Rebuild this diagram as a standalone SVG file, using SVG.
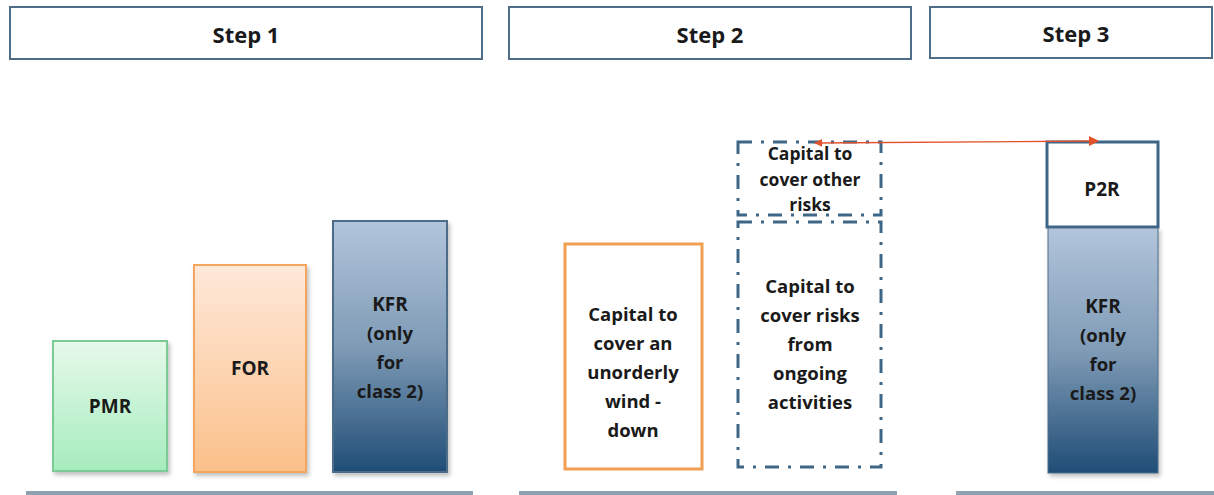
<svg xmlns="http://www.w3.org/2000/svg" width="1214" height="495" viewBox="0 0 1214 495">
<style>
.step{fill:#fff;stroke:#4f6d86;stroke-width:2}
.steptxt{font-family:"Open Sans","Liberation Sans",sans-serif;font-weight:bold;font-size:22px;fill:#1a1a1a;text-anchor:middle}
.t{font-family:"Open Sans","Liberation Sans",sans-serif;font-weight:bold;font-size:18.5px;fill:#1a1a1a;text-anchor:middle}
.tb{font-family:"Open Sans","Liberation Sans",sans-serif;font-weight:bold;font-size:19px;fill:#1a1a1a;text-anchor:middle}
.ts{font-family:"Open Sans","Liberation Sans",sans-serif;font-weight:bold;font-size:17.5px;fill:#1a1a1a;text-anchor:middle}
.dd{fill:none;stroke:#3e6686;stroke-width:3;stroke-dasharray:14 9 3 9}
.base{stroke:#8ea2b2;stroke-width:4}
</style>
<defs>
<linearGradient id="gGreen" x1="0" y1="0" x2="0" y2="1"><stop offset="0" stop-color="#e6f9ea"/><stop offset="1" stop-color="#a6ecbe"/></linearGradient>
<linearGradient id="gOrange" x1="0" y1="0" x2="0" y2="1"><stop offset="0" stop-color="#fee9da"/><stop offset="1" stop-color="#fbc08a"/></linearGradient>
<linearGradient id="gBlue" x1="0" y1="0" x2="0" y2="1"><stop offset="0" stop-color="#b2c5db"/><stop offset="0.5" stop-color="#7f9bb6"/><stop offset="1" stop-color="#1f4d76"/></linearGradient>
<filter id="sh" x="-10%" y="-5%" width="125%" height="115%"><feDropShadow dx="2" dy="3" stdDeviation="2" flood-color="#000" flood-opacity="0.25"/></filter>
<marker id="arrR" viewBox="0 0 10 10" refX="9" refY="5" markerWidth="10" markerHeight="10" markerUnits="userSpaceOnUse" orient="auto"><path d="M0,0 L10,5 L0,10 z" fill="#e2502c"/></marker>
<marker id="arrL" viewBox="0 0 10 10" refX="1" refY="5" markerWidth="8" markerHeight="8" markerUnits="userSpaceOnUse" orient="auto"><path d="M10,0 L0,5 L10,10 z" fill="#e2502c"/></marker>
</defs>

<g id="step1"><rect class="step" x="10" y="7" width="472" height="52"/><text class="steptxt" x="246" y="43">Step 1</text></g>
<g id="step2"><rect class="step" x="509" y="7" width="402" height="52"/><text class="steptxt" x="710" y="43">Step 2</text></g>
<g id="step3"><rect class="step" x="930" y="7" width="282" height="51"/><text class="steptxt" x="1076" y="42">Step 3</text></g>

<g id="pmr"><rect x="53" y="341" width="114" height="130" fill="url(#gGreen)" stroke="#7ccb96" stroke-width="2" filter="url(#sh)"/><text class="tb" x="110" y="413">PMR</text></g>
<g id="for"><rect x="194" y="265" width="112" height="207" fill="url(#gOrange)" stroke="#f3a660" stroke-width="2" filter="url(#sh)"/><text class="tb" x="250" y="375">FOR</text></g>
<g id="kfr1"><rect x="333" y="221" width="114" height="251" fill="url(#gBlue)" stroke="#4d6c88" stroke-width="2" filter="url(#sh)"/>
<text class="tb" x="390" y="311">KFR</text><text class="t" x="390" y="340">(only</text><text class="t" x="390" y="369">for</text><text class="t" x="390" y="398">class 2)</text></g>

<g id="winddown"><rect x="565" y="244" width="137" height="225" fill="#fff" stroke="#f0a050" stroke-width="3"/>
<text class="t" x="633" y="321">Capital to</text><text class="t" x="633" y="350">cover an</text><text class="t" x="633" y="379">unorderly</text><text class="t" x="633" y="408">wind -</text><text class="t" x="633" y="437">down</text></g>

<g id="otherrisks"><rect class="dd" x="738" y="142" width="143" height="73"/>
<text class="ts" x="810" y="160">Capital to</text><text class="ts" x="810" y="186">cover other</text><text class="ts" x="810" y="211">risks</text></g>

<g id="ongoing"><rect class="dd" x="738" y="222" width="143" height="245"/>
<text class="t" x="810" y="293">Capital to</text><text class="t" x="810" y="322">cover risks</text><text class="t" x="810" y="351">from</text><text class="t" x="810" y="380">ongoing</text><text class="t" x="810" y="409">activities</text></g>

<g id="p2r"><rect x="1047" y="142" width="111" height="85" fill="#fff" stroke="#3e6686" stroke-width="3"/><text class="tb" x="1102" y="196">P2R</text></g>
<g id="kfr3"><rect x="1048" y="228" width="110" height="245" fill="url(#gBlue)" stroke="#4d6c88" stroke-width="1" filter="url(#sh)"/>
<text class="tb" x="1103" y="313">KFR</text><text class="t" x="1103" y="342">(only</text><text class="t" x="1103" y="371">for</text><text class="t" x="1103" y="400">class 2)</text></g>

<g id="connectors">
<line x1="815" y1="143" x2="1098" y2="141" stroke="#e2502c" stroke-width="1.3" marker-start="url(#arrL)" marker-end="url(#arrR)"/>
</g>

<g id="baselines">
<line class="base" x1="26" y1="493" x2="473" y2="493"/>
<line class="base" x1="519" y1="493" x2="897" y2="493"/>
<line class="base" x1="956" y1="493" x2="1214" y2="493"/>
</g>
</svg>
